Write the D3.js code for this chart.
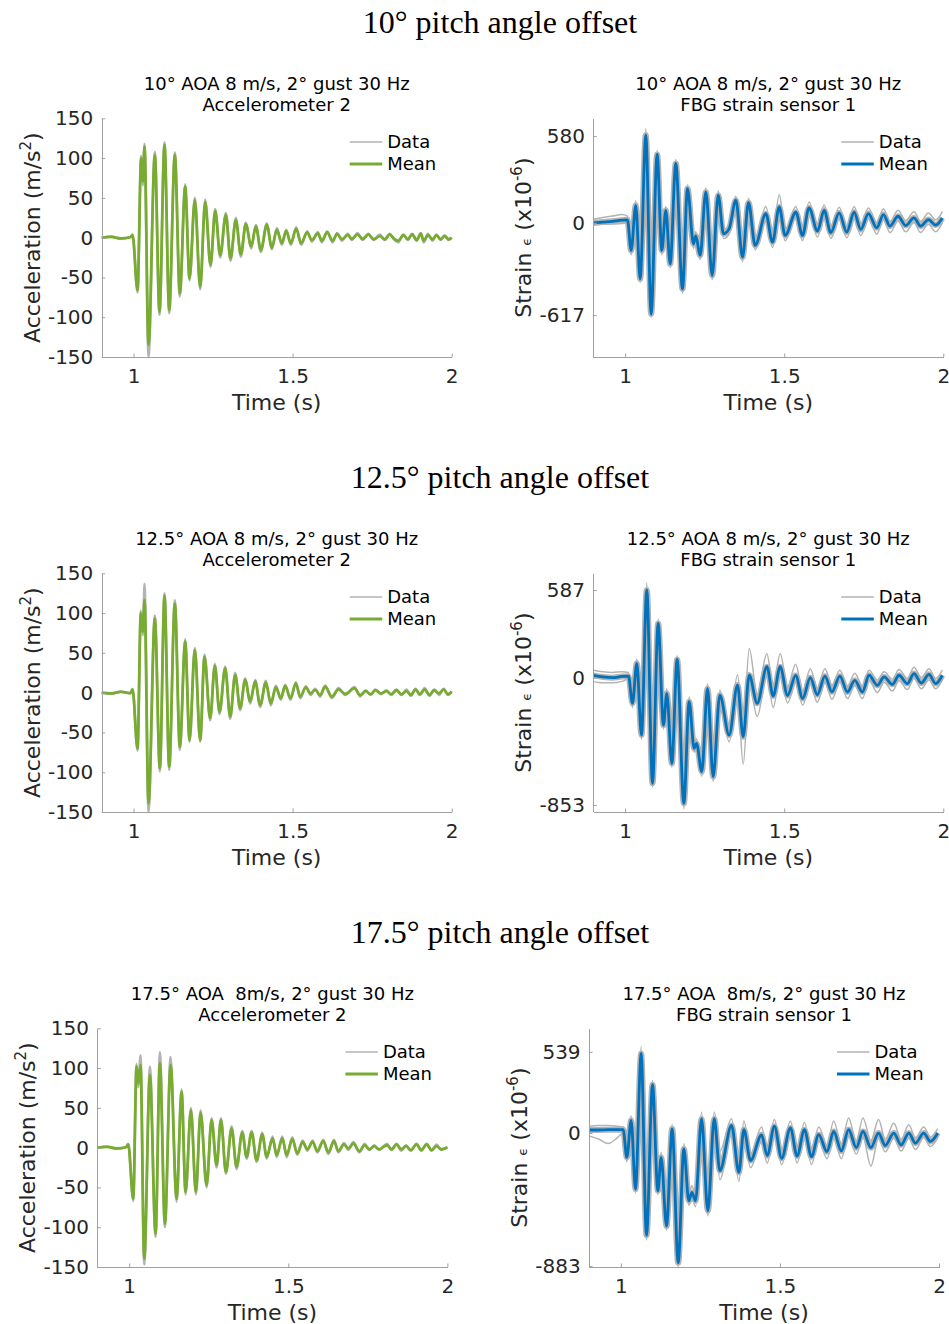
<!DOCTYPE html>
<html lang="en">
<head>
<meta charset="UTF-8">
<title>Gust response at three pitch angle offsets</title>
<script src="https://cdnjs.cloudflare.com/ajax/libs/d3/7.8.5/d3.min.js"></script>
<style>
  body { margin: 0; background: #fff; }
  svg text { font-family: "DejaVu Sans", sans-serif; }
</style>
</head>
<body>
<svg width="949" height="1324"></svg>
<script>
    // ---- data: [time (s), mean, gray extreme] for accelerometer,
    // ---- [time (s), mean, gray upper trace, gray lower trace] for strain

    var headings = ["10° pitch angle offset", "12.5° pitch angle offset", "17.5° pitch angle offset"];
    var titleTop = ["10° AOA 8 m/s, 2° gust 30 Hz", "12.5° AOA 8 m/s, 2° gust 30 Hz", "17.5° AOA  8m/s, 2° gust 30 Hz"];
    var titleAcc = "Accelerometer 2";
    var titleStrain = "FBG strain sensor 1";
    var legendLabels = ["Data", "Mean"];

    var xTicks = [1, 1.5, 2];
    var xTickLabels = ["1", "1.5", "2"];
    var accTicks = [-150, -100, -50, 0, 50, 100, 150];
    var strainTicks10 = [-617, 0, 580];
    var strainTicks12 = [-853, 0, 587];
    var strainTicks17 = [-883, 0, 539];
    var strainLimits = [[-897, 699], [-900, 699], [-889, 695]];

    var acc10 = [
        [0.90, 0, 0], [0.93, 1, 1.5], [0.96, -1, -1.5], [0.99, 0.5, 1], [0.997, 3, 4],
        [1.0126, -65.8, -69], [1.0241, 99.7, 103], [1.0293, 70.8, 66], [1.0346, 114.4, 118],
        [1.0471, -135, -150], [1.067, 104, 108], [1.0817, -93, -97], [1.0974, 116.5, 120],
        [1.1121, -91, -95], [1.1299, 104, 107], [1.1456, -70, -74], [1.1624, 64, 67],
        [1.176, -51, -54], [1.1927, 47, 50], [1.2095, -62, -65], [1.2252, 45, 48],
        [1.242, -34, -37], [1.2567, 33.5, 36], [1.2724, -22, -25], [1.2902, 28.5, 31],
        [1.3048, -26, -29], [1.3216, 22, 25], [1.3373, -21, -24], [1.353, 17, 19],
        [1.3698, -11, -14], [1.3845, 14, 16], [1.4002, -15.5, -18], [1.419, 16, 18],
        [1.4347, -12.6, -15], [1.4505, 9.6, 12], [1.4662, -7, -9], [1.4798, 8.4, 10],
        [1.4944, -7, -9], [1.5112, 11, 13], [1.5269, -7, -9], [1.5458, 6.7, 8],
        [1.5604, -3, -5], [1.5793, 5.4, 7], [1.5919, -4, -6], [1.6086, 6.7, 8],
        [1.6254, -4, -6], [1.64, 4.6, 6], [1.6547, -2, -4], [1.6736, 3.4, 5],
        [1.686, -1.7, -3], [1.704, 4.2, 6], [1.72, -1.7, -3], [1.738, 4, 5],
        [1.755, -2, -3], [1.774, 2, 4], [1.79, -2, -3], [1.805, 4, 5], [1.818, -1, -2],
        [1.832, -4, -6], [1.848, 3, 4], [1.862, -2, -3], [1.876, 4, 5], [1.89, -3, -4],
        [1.903, 5, 6], [1.912, -4, -6], [1.925, 3, 5], [1.94, -2, -4], [1.952, 3, 4],
        [1.965, -2, -3], [1.978, 2, 3], [1.99, -2, -3], [2.0, 0, 0]
    ];

    var acc12 = [
        [0.90, 0, 0], [0.93, -1, -1.5], [0.96, 1, 1.5], [0.99, -0.5, -1], [0.997, 4, 5],
        [1.0126, -70, -73], [1.023, 99.7, 103], [1.0293, 76.7, 72], [1.0346, 116.5, 137],
        [1.0471, -139, -150], [1.067, 93.4, 97], [1.0828, -95, -99], [1.0974, 121.5, 125],
        [1.1121, -93, -97], [1.1299, 112, 116], [1.1456, -68, -72], [1.1624, 64, 67],
        [1.176, -59.5, -62], [1.1927, 53.6, 56], [1.2095, -59.5, -62], [1.2231, 45, 48],
        [1.2409, -32, -35], [1.2556, 33.5, 36], [1.2703, -24, -27], [1.2881, 30.6, 33],
        [1.3038, -30, -33], [1.3195, 22, 25], [1.3352, -19.7, -22], [1.3509, 16, 18],
        [1.3667, -11, -14], [1.3824, 14, 16], [1.3981, -15.5, -18], [1.4159, 12.6, 15],
        [1.4316, -13.4, -16], [1.4473, 6.7, 9], [1.463, -7, -9], [1.4766, 8.4, 10],
        [1.4934, -7, -9], [1.5102, 11.7, 13], [1.5238, -5, -7], [1.5416, 6.7, 8],
        [1.5563, -1, -3], [1.5709, 3.4, 5], [1.5866, -3, -5], [1.6023, 7.5, 9],
        [1.6233, -5, -7], [1.6442, 4.2, 6], [1.6652, -1.7, -3], [1.6945, 5.4, 7],
        [1.7123, -3, -5], [1.73, 2, 3], [1.745, -2, -3], [1.76, 3, 4], [1.778, -1, -2],
        [1.795, 2, 3], [1.81, -2, -3], [1.826, 3, 4], [1.842, -2, -3], [1.858, 2, 4],
        [1.872, -3, -4], [1.886, 4, 5], [1.9, -2, -3], [1.915, 4, 6], [1.93, -3, -4],
        [1.945, 3, 4], [1.96, -1, -3], [1.975, 4, 5], [1.988, -2, -3], [2.0, 1, 2]
    ];

    var acc17 = [
        [0.90, 0, 0], [0.93, 1, 1.5], [0.96, -1, -1.5], [0.99, 0.5, 1], [0.997, 4, 5],
        [1.0126, -64, -67], [1.0231, 101.7, 105], [1.0283, 80.7, 76], [1.0356, 103.8, 116],
        [1.0472, -139.5, -147], [1.065, 91, 101.7], [1.0828, -108, -112], [1.0964, 106, 120],
        [1.1122, -95.4, -100], [1.13, 103.8, 114], [1.1488, -64, -68], [1.1646, 70, 73],
        [1.1771, -55.6, -59], [1.1939, 47, 50], [1.2096, -55.6, -59], [1.2243, 44, 47],
        [1.2432, -47, -50], [1.2589, 34.6, 37], [1.2746, -22, -25], [1.2883, 34.6, 37],
        [1.304, -30.4, -33], [1.3218, 24, 27], [1.3375, -24, -27], [1.3553, 19, 21],
        [1.369, -11.5, -14], [1.3847, 19, 21], [1.4004, -15.7, -18], [1.4182, 16.6, 19],
        [1.4319, -11.5, -14], [1.4507, 11.5, 14], [1.4633, -9.4, -12], [1.4811, 11.5, 14],
        [1.4948, -9.4, -12], [1.5126, 10.7, 13], [1.5283, -7.3, -9], [1.5451, 7.3, 9],
        [1.5597, -2, -4], [1.5765, 7.3, 9], [1.5912, -4.4, -6], [1.61, 8.2, 10],
        [1.6258, -6, -8], [1.6436, 8.2, 10], [1.6572, -4.4, -6], [1.675, 4, 6],
        [1.6887, -1, -3], [1.7044, 5.2, 7], [1.7233, -4.4, -6], [1.74, 3, 5],
        [1.755, -2, -3], [1.77, 2, 3], [1.785, -2, -3], [1.8, 1, 2], [1.81, 3, 5],
        [1.825, -2, -3], [1.84, 4, 5], [1.855, -2, -4], [1.87, 2, 3], [1.885, -3, -4],
        [1.903, 4, 5], [1.918, -3, -4], [1.935, 4, 5], [1.95, -3, -4], [1.966, 2, 4],
        [1.98, -2, -3], [2.0, 0, 1]
    ];

    var strain10 = [
        [0.90, 0, 25, -15], [0.93, 5, 35, -10], [0.96, 10, 45, -8], [0.99, 18, 55, -5],
        [1.0073, 20, 45, 0], [1.0189, -185, -150, -215], [1.0335, 117, 150, 90],
        [1.0472, -375, -345, -400], [1.065, 587, 632, 560], [1.0818, -610, -580, -635],
        [1.1006, 457, 485, 430], [1.1153, -185, -160, -215], [1.1279, 84, 110, 60],
        [1.1415, -274, -245, -300], [1.1593, 397, 425, 370], [1.1803, -442, -415, -470],
        [1.196, 229, 255, 205], [1.2149, -140, -115, -170], [1.2222, -88, -60, -115],
        [1.2358, -218, -190, -245], [1.2537, 207, 235, 180], [1.2736, -352, -325, -380],
        [1.2925, 185, 215, 160], [1.3092, -73, -45, -105], [1.327, -39, -10, -75],
        [1.348, 151, 180, 125], [1.369, -229, -200, -260], [1.3878, 135, 165, 110],
        [1.4088, -151, -120, -180], [1.4423, 61, 110, 35], [1.4633, -129, -95, -165],
        [1.4843, 106, 188, 80], [1.5031, -84, -50, -120], [1.5366, 71, 110, 40],
        [1.5575, -84, -45, -120], [1.578, 100, 140, 65], [1.6046, -55, -20, -95],
        [1.6255, 84, 120, 50], [1.6464, -66, -30, -105], [1.6726, 66, 105, 30],
        [1.6967, -62, -25, -100], [1.7197, 71, 110, 35], [1.7406, -44, -10, -85],
        [1.7646, 62, 100, 25], [1.7908, -33, 0, -75], [1.8117, 55, 95, 20],
        [1.8326, -22, 10, -65], [1.8577, 44, 85, 10], [1.8818, -18, 15, -60],
        [1.9079, 33, 75, 0], [1.9289, -22, 10, -65], [1.953, 22, 65, -10],
        [1.976, -15, 20, -60], [1.997, 33, 75, 0]
    ];

    var strain12 = [
        [0.90, 15, 50, -25], [0.93, 5, 40, -35], [0.96, 0, 35, -35], [0.99, 8, 40, -25],
        [1.0105, 10, 35, -10], [1.0231, -172, -140, -200], [1.0367, 96, 125, 70],
        [1.0514, -385, -355, -415], [1.0681, 587, 635, 560], [1.086, -708, -680, -735],
        [1.1038, 363, 395, 335], [1.1205, -318, -290, -345], [1.131, -105, -75, -135],
        [1.1468, -575, -545, -600], [1.1635, 122, 150, 95], [1.1845, -842, -815, -880],
        [1.2013, -161, -130, -190], [1.217, -474, -440, -500], [1.2243, -440, -410, -470],
        [1.2411, -630, -600, -660], [1.2589, -72, -40, -100], [1.2767, -664, -635, -695],
        [1.2977, -117, -85, -145], [1.327, -385, -330, -430], [1.3532, -50, 20, -110],
        [1.3711, -396, -330, -580], [1.39, 17, 196, -40], [1.4151, -172, -110, -260],
        [1.4455, 73, 160, 20], [1.4654, -123, -60, -200], [1.4874, 73, 160, 20],
        [1.5105, -120, -60, -170], [1.536, 15, 90, -30], [1.558, -140, -90, -185],
        [1.582, 0, 60, -40], [1.604, -115, -70, -165], [1.628, 10, 60, -30],
        [1.65, -95, -50, -145], [1.675, 10, 50, -30], [1.6987, -96, -55, -140],
        [1.7218, -18, 30, -55], [1.7458, -96, -55, -140], [1.7667, 16, 50, -20],
        [1.7929, -52, -15, -100], [1.8138, 5, 40, -30], [1.84, -45, -10, -90],
        [1.8609, 16, 55, -20], [1.887, -40, -5, -80], [1.908, 27, 70, -5],
        [1.931, -36, 0, -75], [1.955, 22, 60, -15], [1.976, -40, -5, -75],
        [1.997, 16, 50, -15]
    ];

    var strain17 = [
        [0.90, 20, 45, -20], [0.93, 20, 50, -40], [0.96, 22, 50, -70], [0.99, 22, 45, -30],
        [1.0073, 23, 40, 0], [1.0189, -161, -130, -190], [1.0325, 84, 115, 55],
        [1.0461, -372, -340, -400], [1.0639, 528, 575, 500], [1.0807, -679, -650, -710],
        [1.0996, 321, 350, 295], [1.1164, -383, -350, -410], [1.1268, -161, -130, -190],
        [1.1436, -617, -585, -645], [1.1614, 28, 60, 0], [1.1803, -861, -830, -895],
        [1.1981, -105, -70, -135], [1.2138, -450, -400, -480], [1.2233, -394, -350, -430],
        [1.2348, -450, -410, -490], [1.2537, 95, 140, 60], [1.2736, -516, -480, -550],
        [1.2935, 95, 140, 55], [1.3113, -250, -120, -310], [1.348, 50, 95, 15],
        [1.3711, -261, -220, -320], [1.3868, 23, 80, -20], [1.4078, -183, -140, -230],
        [1.4423, -12, 40, -60], [1.4602, -150, -110, -200], [1.4827, 45, 90, 5],
        [1.5055, -168, -125, -210], [1.533, 34, 80, -5], [1.554, -153, -110, -200],
        [1.577, 22, 70, -15], [1.599, -157, -110, -210], [1.622, -11, 40, -50],
        [1.648, -124, -80, -170], [1.669, 11, 80, -30], [1.693, -119, -75, -170],
        [1.716, 22, 100, -20], [1.740, -97, -55, -140], [1.761, 11, 100, -30],
        [1.786, -97, -50, -220], [1.810, 0, 90, -35], [1.831, -83, -40, -125],
        [1.858, 0, 65, -35], [1.881, -79, -40, -120], [1.905, 0, 55, -35],
        [1.926, -67, -30, -110], [1.952, 0, 40, -30], [1.973, -56, -25, -90],
        [1.996, 0, 30, -30]
    ];

    // ---- layout
    var svg = d3.select("svg");
    var W = 350, H = 238.7;
    var colX = [101.7, 593.3];
    var rowY = [118.3, 573.3, 1028.3];
    var rowShift = [0, 0, -4.3];
    var green = "#77ac30", blue = "#0072bd", gray = "#b3b3b3";
    var axisColor = "#a0a0a0", textColor = "#262626";

    var panels = [
        {row: 0, col: 0, kind: "acc", data: acc10},
        {row: 0, col: 1, kind: "strain", data: strain10, ticks: strainTicks10, lim: strainLimits[0]},
        {row: 1, col: 0, kind: "acc", data: acc12},
        {row: 1, col: 1, kind: "strain", data: strain12, ticks: strainTicks12, lim: strainLimits[1]},
        {row: 2, col: 0, kind: "acc", data: acc17},
        {row: 2, col: 1, kind: "strain", data: strain17, ticks: strainTicks17, lim: strainLimits[2]}
    ];

    headings.forEach(function (h, i) {
        svg.append("text")
            .attr("x", 500)
            .attr("y", rowY[i] - 85.5)
            .attr("text-anchor", "middle")
            .style("font-family", "'Liberation Serif', 'Times New Roman', serif")
            .attr("font-size", 32)
            .attr("fill", "#000")
            .text(h);
    });

    panels.forEach(function (p) {
        var ox = colX[p.col] + rowShift[p.row];
        var oy = rowY[p.row];
        var g = svg.append("g").attr("transform", "translate(" + ox + "," + oy + ")");

        var x = d3.scaleLinear().domain([0.9, 2]).range([0, W]);
        var y = d3.scaleLinear()
            .domain(p.kind === "acc" ? [-150, 150] : p.lim)
            .range([H, 0]);

        // titles
        var t = g.append("text")
            .attr("text-anchor", "middle")
            .attr("font-size", 18)
            .attr("fill", "#000")
            .style("white-space", "pre");
        t.append("tspan").attr("x", W / 2).attr("y", -28.3).text(titleTop[p.row]);
        t.append("tspan").attr("x", W / 2).attr("y", -7.3)
            .text(p.kind === "acc" ? titleAcc : titleStrain);

        // data lines
        var line = function (idx) {
            return d3.line()
                .x(function (d) { return x(d[0]); })
                .y(function (d) { return y(d[idx]); })
                .curve(d3.curveMonotoneX);
        };

        if (p.kind === "acc") {
            g.append("path").datum(p.data)
                .attr("d", line(2)).attr("fill", "none")
                .attr("stroke", gray).attr("stroke-width", 2.5);
            g.append("path").datum(p.data)
                .attr("d", line(1)).attr("fill", "none")
                .attr("stroke", green).attr("stroke-width", 2.8)
                .attr("stroke-linejoin", "round");
        } else {
            [2, 3].forEach(function (idx) {
                g.append("path").datum(p.data)
                    .attr("d", line(idx)).attr("fill", "none")
                    .attr("stroke", gray).attr("stroke-width", 1.5);
            });
            g.append("path").datum(p.data)
                .attr("d", line(1)).attr("fill", "none")
                .attr("stroke", gray).attr("stroke-width", 6);
            g.append("path").datum(p.data)
                .attr("d", line(1)).attr("fill", "none")
                .attr("stroke", blue).attr("stroke-width", 2.8)
                .attr("stroke-linejoin", "round");
        }

        // axes
        var xAxis = g.append("g")
            .attr("transform", "translate(0," + H + ")")
            .call(d3.axisBottom(x).tickValues(xTicks)
                .tickFormat(function (d, i) { return xTickLabels[i]; })
                .tickSizeInner(-3.5).tickSizeOuter(0).tickPadding(11.5));
        var yAxis = g.append("g")
            .call(d3.axisLeft(y).tickValues(p.kind === "acc" ? accTicks : p.ticks)
                .tickFormat(d3.format("d"))
                .tickSizeInner(-3.5).tickSizeOuter(0).tickPadding(8.4));
        [xAxis, yAxis].forEach(function (a) {
            a.select(".domain").attr("stroke", axisColor).attr("shape-rendering", "crispEdges");
            a.selectAll(".tick line").attr("stroke", axisColor);
            a.selectAll("text").attr("font-size", 20).attr("fill", textColor)
                .style("font-family", "'DejaVu Sans', sans-serif");
        });
        yAxis.selectAll(".tick text").text(function (d) { return d < 0 ? "-" + Math.abs(d) : d; });

        // axis labels
        g.append("text")
            .attr("x", W / 2).attr("y", H + 53)
            .attr("text-anchor", "middle")
            .attr("font-size", 22).attr("fill", textColor)
            .text("Time (s)");

        var yl = g.append("text")
            .attr("transform", "translate(-62," + (H / 2) + ") rotate(-90)")
            .attr("text-anchor", "middle")
            .attr("font-size", 22).attr("fill", textColor);
        if (p.kind === "acc") {
            yl.append("tspan").text("Acceleration (m/s");
            yl.append("tspan").attr("font-size", 15).attr("dy", -9).text("2");
            yl.append("tspan").attr("dy", 9).text(")");
        } else {
            yl.append("tspan").text("Strain ");
            yl.append("tspan").attr("font-size", 13).text("ϵ");
            yl.append("tspan").text(" (x10");
            yl.append("tspan").attr("font-size", 15).attr("dy", -9).text("-6");
            yl.append("tspan").attr("dy", 9).text(")");
        }

        // legend
        var leg = g.append("g").attr("transform", "translate(248,23.7)");
        legendLabels.forEach(function (lab, i) {
            leg.append("line")
                .attr("x1", 0).attr("x2", 32.5)
                .attr("y1", i * 22).attr("y2", i * 22)
                .attr("stroke", i === 0 ? gray : (p.kind === "acc" ? green : blue))
                .attr("stroke-width", i === 0 ? 1.5 : 2.8);
            leg.append("text")
                .attr("x", 37.5).attr("y", i * 22)
                .attr("dy", "0.35em")
                .attr("font-size", 18).attr("fill", "#000")
                .text(lab);
        });
    });
</script>
</body>
</html>
